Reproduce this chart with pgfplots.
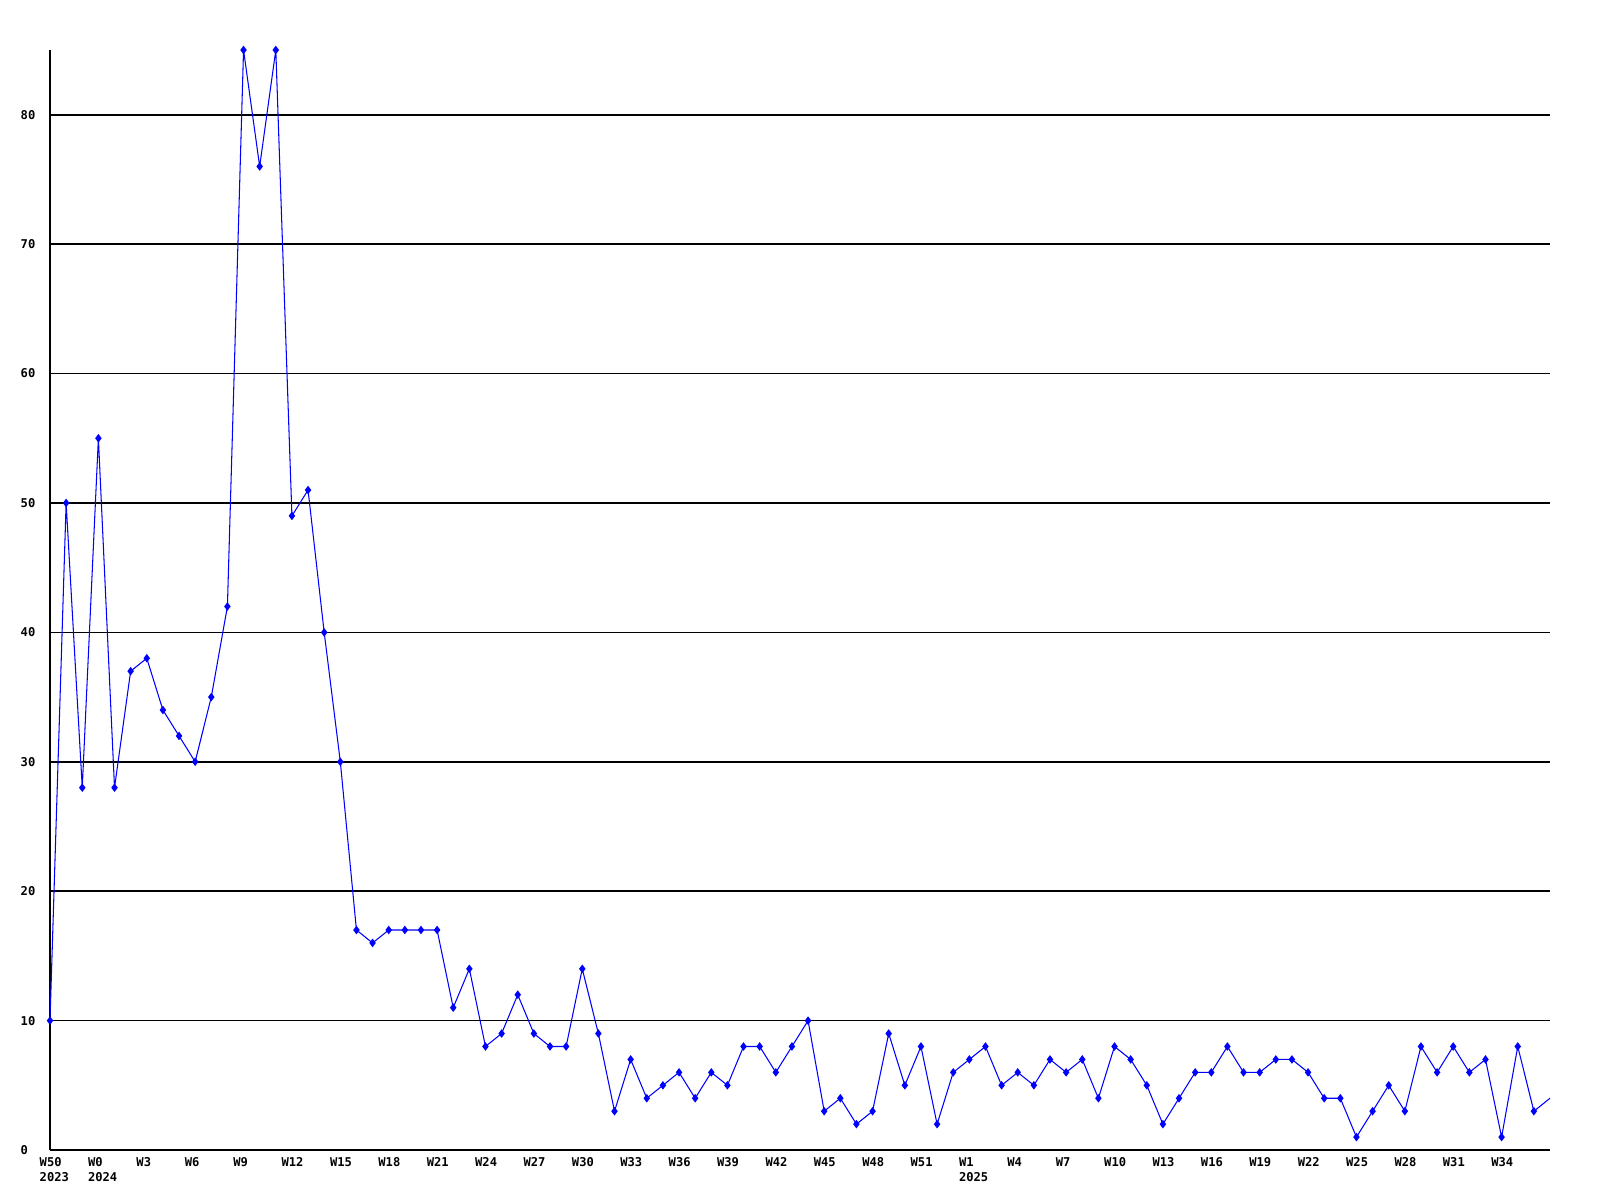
\documentclass[border=0pt]{standalone}
\usepackage{fontspec}
\newfontfamily\gdfont{DejaVu Sans Mono}
\usepackage{pgfplots}
\pgfplotsset{compat=1.18}
\definecolor{series}{RGB}{0,0,255}

% weekly counts, index 0 = W50 2023
\pgfplotstableread{
x y
0 10
1 50
2 28
3 55
4 28
5 37
6 38
7 34
8 32
9 30
10 35
11 42
12 85
13 76
14 85
15 49
16 51
17 40
18 30
19 17
20 16
21 17
22 17
23 17
24 17
25 11
26 14
27 8
28 9
29 12
30 9
31 8
32 8
33 14
34 9
35 3
36 7
37 4
38 5
39 6
40 4
41 6
42 5
43 8
44 8
45 6
46 8
47 10
48 3
49 4
50 2
51 3
52 9
53 5
54 8
55 2
56 6
57 7
58 8
59 5
60 6
61 5
62 7
63 6
64 7
65 4
66 8
67 7
68 5
69 2
70 4
71 6
72 6
73 8
74 6
75 6
76 7
77 7
78 6
79 4
80 4
81 1
82 3
83 5
84 3
85 8
86 6
87 8
88 6
89 7
90 1
91 8
92 3
93 4
}\weekly

\begin{document}
\begin{tikzpicture}
\path[use as bounding box] (-0.5cm,-0.5cm) rectangle (15.5cm,11.5cm);
\begin{axis}[
  at={(0,0)}, anchor=south west,
  scale only axis, width=15cm, height=11cm,
  xmin=0, xmax=93, ymin=0, ymax=85,
  axis lines=left,
  axis line style={-, black, line width=0.45pt},
  major tick length=0pt,
  ytick={0,10,...,80},
  ymajorgrids,
  grid style={black, line width=0.45pt},
  xtick={0,3,...,90},
  xticklabels={{W50\\2023},{W0\\2024},W3,W6,W9,W12,W15,W18,W21,W24,W27,W30,W33,W36,W39,W42,W45,W48,W51,{W1\\2025},W4,W7,W10,W13,W16,W19,W22,W25,W28,W31,W34},
  /pgf/number format/assume math mode=true,
  tick label style={font=\gdfont\bfseries\fontsize{3.45}{4.2}\selectfont, inner sep=0pt},
  xticklabel style={anchor=north west, align=left, xshift=-0.11cm, yshift=-0.07cm},
  yticklabel style={anchor=west, xshift=-0.3cm},
  clip=false,
]
\addplot[series, line width=0.3pt, no marks] table {\weekly};
\addplot[series, only marks, mark=diamond*, mark size=0.9pt, restrict x to domain=0:92] table {\weekly};
\end{axis}
\end{tikzpicture}
\end{document}
